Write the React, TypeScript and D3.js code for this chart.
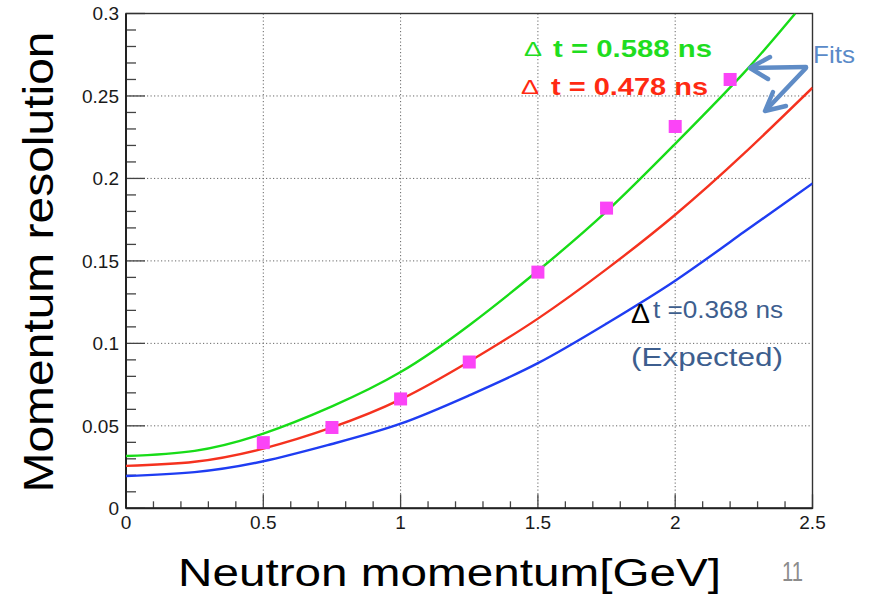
import React from "react";
import * as d3 from "d3";

const W = 873;
const H = 594;

// Axis domains and tick labels
const xDomain = [0, 2.5];
const yDomain = [0, 0.3];
const xMajorTicks = [0, 0.5, 1, 1.5, 2, 2.5];
const xTickLabels = ["0", "0.5", "1", "1.5", "2", "2.5"];
const yMajorTicks = [0, 0.05, 0.1, 0.15, 0.2, 0.25, 0.3];
const yTickLabels = ["0", "0.05", "0.1", "0.15", "0.2", "0.25", "0.3"];

// Fit curves
const curveX = [0, 0.25, 0.5, 0.75, 1, 1.25, 1.5, 1.75, 2, 2.25, 2.5];
const greenX = [0, 0.25, 0.5, 0.75, 1, 1.25, 1.5, 1.75, 2, 2.25, 2.437];
const greenY = [0.0317, 0.0348, 0.0453, 0.0618, 0.0826, 0.111, 0.144, 0.18, 0.221, 0.264, 0.3];
const redY = [0.0257, 0.0282, 0.0362, 0.049, 0.066, 0.089, 0.115, 0.145, 0.178, 0.215, 0.255];
const blueY = [0.0196, 0.0219, 0.0285, 0.039, 0.0513, 0.0685, 0.088, 0.112, 0.138, 0.1675, 0.197];

// Measured points
const dataX = [0.5, 0.75, 1, 1.25, 1.5, 1.75, 2, 2.2];
const dataY = [0.0398, 0.049, 0.0663, 0.0887, 0.1432, 0.182, 0.2315, 0.26];

const FONT = "'Liberation Sans', Arial, Helvetica, sans-serif";

export default function App() {
  const left = 126, right = 812.5, top = 13.5, bottom = 508.3;
  const x = d3.scaleLinear().domain(xDomain).range([left, right]);
  const y = d3.scaleLinear().domain(yDomain).range([bottom, top]);

  const line = d3
    .line<[number, number]>()
    .x((d) => x(d[0]))
    .y((d) => y(d[1]))
    .curve(d3.curveNatural);

  const greenPts = greenX.map((v, i) => [v, greenY[i]] as [number, number]);
  const redPts = curveX.map((v, i) => [v, redY[i]] as [number, number]);
  const bluePts = curveX.map((v, i) => [v, blueY[i]] as [number, number]);

  const xMinor = d3.range(0, 2.5001, 0.1);
  const yMinor = d3.range(0, 0.3001, 0.01);
  const sq = 13;

  const arrowColor = "#5f8cc6";

  return (
    <svg
      width={W}
      height={H}
      style={{ position: "absolute", left: 0, top: 0, background: "#fff" }}
      fontFamily={FONT}
    >
      <rect x={0} y={0} width={W} height={H} fill="#fff" />
      <defs>
        <clipPath id="plotClip">
          <rect x={left} y={top} width={right - left} height={bottom - top} />
        </clipPath>
      </defs>

      {/* grid */}
      <g stroke="#666" strokeWidth={1} strokeDasharray="1.2 2.3">
        {xMajorTicks.slice(1, -1).map((t) => (
          <line key={"gx" + t} x1={x(t)} x2={x(t)} y1={top} y2={bottom} />
        ))}
        {yMajorTicks.slice(1, -1).map((t) => (
          <line key={"gy" + t} x1={left} x2={right} y1={y(t)} y2={y(t)} />
        ))}
      </g>

      {/* ticks */}
      <g stroke="#444" strokeWidth={1.3}>
        {xMinor.map((t, i) => {
          const major = i % 5 === 0;
          return (
            <line key={"xt" + i} x1={x(t)} x2={x(t)} y1={bottom} y2={bottom - (major ? 14 : 7)} />
          );
        })}
        {yMinor.map((t, i) => {
          const major = i % 5 === 0;
          return (
            <line key={"yt" + i} x1={left} x2={left + (major ? 19 : 10)} y1={y(t)} y2={y(t)} />
          );
        })}
      </g>

      {/* frame */}
      <rect x={left} y={top} width={right - left} height={bottom - top} fill="none" stroke="#333" strokeWidth={1.4} />
      <line x1={left} x2={left} y1={top} y2={bottom} stroke="#222" strokeWidth={2} />
      <line x1={left} x2={right} y1={bottom} y2={bottom} stroke="#222" strokeWidth={2} />

      {/* tick labels */}
      <g fontSize={19} fill="#1a1a1a">
        {xMajorTicks.map((t, i) => (
          <text key={"xl" + t} x={x(t)} y={bottom + 20.5} textAnchor="middle">
            {xTickLabels[i]}
          </text>
        ))}
        {yMajorTicks.map((t, i) => (
          <text key={"yl" + t} x={left - 7} y={y(t) + 6.8} textAnchor="end">
            {yTickLabels[i]}
          </text>
        ))}
      </g>

      {/* curves */}
      <g clipPath="url(#plotClip)" fill="none" strokeWidth={2.4}>
        <path d={line(bluePts) || ""} stroke="#1f3df2" />
        <path d={line(redPts) || ""} stroke="#f5321f" />
        <path d={line(greenPts) || ""} stroke="#18dc18" />
      </g>

      {/* data points */}
      <g fill="#fb44f7">
        {dataX.map((v, i) => (
          <rect key={"p" + i} x={x(v) - sq / 2} y={y(dataY[i]) - sq / 2} width={sq} height={sq} />
        ))}
      </g>

      {/* legend texts */}
      <text x={524} y={56} fontSize={20} fill="#1fdd1f" textLength={18} lengthAdjust="spacingAndGlyphs">Δ</text>
      <text x={553} y={57} fontSize={24} fontWeight="bold" fill="#1fdd1f" textLength={159} lengthAdjust="spacingAndGlyphs">
        t = 0.588 ns
      </text>
      <text x={521} y={94} fontSize={20} fill="#ff2a12" textLength={18} lengthAdjust="spacingAndGlyphs">Δ</text>
      <text x={551} y={95} fontSize={24} fontWeight="bold" fill="#ff2a12" textLength={157} lengthAdjust="spacingAndGlyphs">
        t = 0.478 ns
      </text>

      {/* Fits annotation */}
      <text x={813} y={63} fontSize={24} fill="#5a8ac8" textLength={42} lengthAdjust="spacingAndGlyphs">Fits</text>
      <g stroke={arrowColor} strokeWidth={4.5} strokeLinecap="round" strokeLinejoin="round" fill="none">
        <path d="M806,67 L751,68" />
        <path d="M770,57 L750,68 L768,79" />
        <path d="M806,68 L767,109" />
        <path d="M773,92 L765,111 L786,106" />
      </g>

      {/* expected annotation */}
      <text x={631} y={322.5} fontSize={27} fill="#000" textLength={19} lengthAdjust="spacingAndGlyphs">Δ</text>
      <text x={653} y={318} fontSize={24} fill="#3d5e8e" textLength={130} lengthAdjust="spacingAndGlyphs">
        t =0.368 ns
      </text>
      <text x={631} y={366} fontSize={25} fill="#3d5e8e" textLength={152} lengthAdjust="spacingAndGlyphs">
        (Expected)
      </text>

      {/* axis titles */}
      <text x={178} y={586} fontSize={39} fill="#000" textLength={543} lengthAdjust="spacingAndGlyphs">
        Neutron momentum[GeV]
      </text>
      <text
        transform="translate(53,262) rotate(-90)"
        textAnchor="middle"
        fontSize={43}
        fill="#000"
        textLength={461}
        lengthAdjust="spacingAndGlyphs"
      >
        Momentum resolution
      </text>

      {/* slide number */}
      <text x={782} y={581} fontSize={27} fill="#8c8c8c" textLength={21} lengthAdjust="spacingAndGlyphs">11</text>
    </svg>
  );
}
